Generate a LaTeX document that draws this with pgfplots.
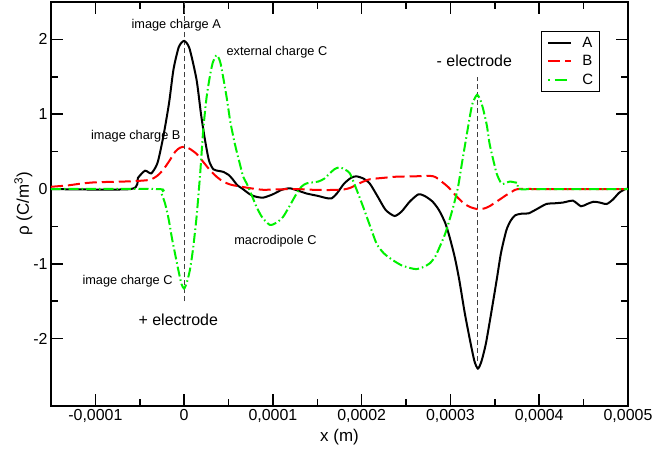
\documentclass[border=0pt]{standalone}
\usepackage{fontspec}
\setmainfont{Liberation Sans}
\usepackage{pgfplots}
\pgfplotsset{compat=1.18}
\definecolor{cgreen}{HTML}{00F000}
\definecolor{cred}{HTML}{FF0000}
\begin{document}
\begin{tikzpicture}
\useasboundingbox (0,0) rectangle (654bp,452bp);
\begin{axis}[
 at={(51bp,46bp)}, anchor=south west,
 scale only axis, width=577bp, height=404bp,
 xmin=-150, xmax=500, ymin=-2.9, ymax=2.5,
 xtick={-100,0,100,200,300,400,500},
 xticklabels={{-0,0001},{0},{0,0001},{0,0002},{0,0003},{0,0004},{0,0005}},
 ytick={-2,-1,0,1,2}, yticklabels={-2,-1,0,1,2},
 minor x tick num=1, minor y tick num=1,
 major tick length=12bp, minor tick length=7bp,
 axis line style={line width=1.6bp},
 every tick/.style={line width=1.6bp, black},
 tick label style={font=\fontsize{16}{18}\selectfont},
 xlabel={x (m)}, ylabel={ρ (C/m\textsuperscript{3})},
 label style={font=\fontsize{17}{19}\selectfont},
 ylabel shift=-6bp,
 legend style={at={(0.951,0.928)}, anchor=north east, draw=black, line width=0.9bp,
   font=\fontsize{15}{17}\selectfont, inner xsep=6bp, inner ysep=5.5bp, row sep=6.5bp,
   column sep=10bp, nodes={inner sep=0bp}, cells={anchor=west}},
 legend image code/.code={\draw[#1] (0bp,0bp) -- (23.4bp,0bp);},
]
\addlegendimage{black, line width=2bp}
\addlegendentry{A}
\addlegendimage{cred, line width=2bp, dash pattern=on 12bp off 5bp}
\addlegendentry{B}
\addlegendimage{legend image code/.code={
  \draw[cgreen, line width=2bp] (0bp,0bp) -- (2bp,0bp);
  \draw[cgreen, line width=2bp] (6.5bp,0bp) -- (19bp,0bp);}}
\addlegendentry{C}

\addplot[forget plot, line width=0.9bp, black!75, dash pattern=on 5bp off 3bp] coordinates {(0,-1.5) (0,2.5)};
\addplot[forget plot, line width=0.9bp, black!75, dash pattern=on 5bp off 3bp] coordinates {(330,-2.3) (330,1.5)};

\addplot[forget plot, black, line width=2bp, smooth, tension=0.4] coordinates {
(-150,0) (-60,0) (-52,0.15) (-44,0.245) (-37,0.21) (-30,0.35) (-23.5,0.70) (-17,1.15) (-12,1.6) (-6,1.9) (0,1.98)
(6,1.88) (14,1.46) (19,1.0) (23.5,0.655) (28,0.38) (33,0.263) (40,0.24) (44,0.23) (50,0.19) (54,0.14)
(60,0.05) (65,0.01) (74,-0.07) (80,-0.10) (89,-0.115) (100,-0.07) (110,-0.01) (119,0.01) (128,-0.02)
(138,-0.06) (150,-0.09) (160,-0.12) (166,-0.125) (172,-0.06) (180,0.07) (188,0.15) (194,0.17) (202,0.14)
(209,0.076) (218,-0.1) (227,-0.28) (237,-0.36) (245,-0.30) (254,-0.17) (264,-0.07) (272,-0.10) (280,-0.17)
(287,-0.28) (294,-0.45) (299,-0.64) (305,-0.92) (310,-1.22) (316,-1.65) (322,-2.02) (327,-2.3) (331,-2.40)
(335,-2.3) (340,-2.06) (346,-1.65) (352,-1.22) (357,-0.85) (363,-0.55) (368,-0.42) (373,-0.35) (380,-0.33)
(388,-0.325) (397,-0.27) (408,-0.20) (418,-0.19) (427,-0.18) (438,-0.156) (447,-0.23) (454,-0.2) (461,-0.17)
(468,-0.18) (476,-0.2) (483,-0.14) (490,-0.05) (497,0) (500,0)};

\addplot[forget plot, cred, line width=2bp, smooth, tension=0.4, dash pattern=on 12bp off 5bp] coordinates {
(-150,0.03) (-130,0.05) (-115,0.075) (-100,0.09) (-85,0.095) (-68,0.1) (-50,0.11) (-38,0.125) (-30,0.18)
(-23.5,0.26) (-17,0.37) (-10,0.50) (-5,0.55) (0,0.565) (6,0.54) (14,0.47) (21,0.37) (29,0.254) (37,0.16)
(44,0.1) (52,0.06) (60,0.04) (75,0.01) (89,-0.01) (105,-0.005) (127,0.0) (145,-0.01) (164,-0.013) (180,-0.005)
(188,0.02) (198,0.08) (209,0.13) (225,0.15) (239,0.165) (260,0.17) (277,0.176) (283,0.16) (290,0.10) (298,0.02)
(307,-0.10) (315,-0.19) (322,-0.24) (331,-0.27) (338,-0.26) (344,-0.23) (353,-0.16) (363,-0.08) (370,-0.03)
(376,0.0) (400,0) (500,0)};

\addplot[forget plot, cgreen, line width=2bp, smooth, tension=0.4, dash pattern=on 10bp off 3bp on 1.5bp off 3bp] coordinates {
(-150,0) (-30,0) (-26,-0.05) (-21.6,-0.19) (-17.5,-0.4) (-14,-0.64) (-10,-0.88) (-6.6,-1.08) (-3,-1.27) (0,-1.33)
(3,-1.25) (6.5,-1.08) (10,-0.8) (14,-0.37) (18,0.2) (21.5,0.79) (25,1.2) (28.3,1.46) (32,1.68) (36.6,1.79)
(41,1.68) (47.8,1.23) (52,0.9) (57,0.61) (62,0.37) (66.5,0.165) (70.4,0.076) (76,-0.08) (81.6,-0.24) (88,-0.38)
(96.6,-0.48) (104,-0.45) (111.6,-0.37) (120,-0.2) (126.7,-0.06) (132,0.03) (138,0.076) (151,0.1) (158,0.14)
(164,0.21) (170,0.27) (175.4,0.29) (181,0.26) (186.7,0.21) (194,0.0) (201.7,-0.24) (209,-0.48) (216.8,-0.73)
(225,-0.86) (235,-0.95) (245,-1.02) (256,-1.06) (262,-1.07) (270,-1.04) (277,-0.99) (283,-0.9) (288,-0.77)
(294,-0.6) (299,-0.41) (304,-0.2) (308.6,0.03) (313,0.35) (318,0.70) (322,0.98) (325,1.15) (330,1.26) (334,1.18)
(337,1.06) (341,0.85) (344,0.61) (348,0.40) (352,0.21) (356,0.10) (359,0.067) (363,0.085) (367,0.1) (372,0.09)
(376,0.076) (377,0) (400,0) (500,0)};

\node[font=\fontsize{12.8}{14}\selectfont, inner sep=0] at (axis cs:-8.9,2.19) {image charge A};
\node[font=\fontsize{12.8}{14}\selectfont, inner sep=0] at (axis cs:104.5,1.83) {external charge C};
\node[font=\fontsize{12.8}{14}\selectfont, inner sep=0] at (axis cs:-54.5,0.70) {image charge B};
\node[font=\fontsize{12.8}{14}\selectfont, inner sep=0] at (axis cs:-63.8,-1.23) {image charge C};
\node[font=\fontsize{12.8}{14}\selectfont, inner sep=0] at (axis cs:102.8,-0.695) {macrodipole C};
\node[font=\fontsize{16}{18}\selectfont, inner sep=0] at (axis cs:-6.6,-1.75) {+ electrode};
\node[font=\fontsize{16}{18}\selectfont, inner sep=0] at (axis cs:326.9,1.715) {- electrode};
\end{axis}
\end{tikzpicture}
\end{document}
